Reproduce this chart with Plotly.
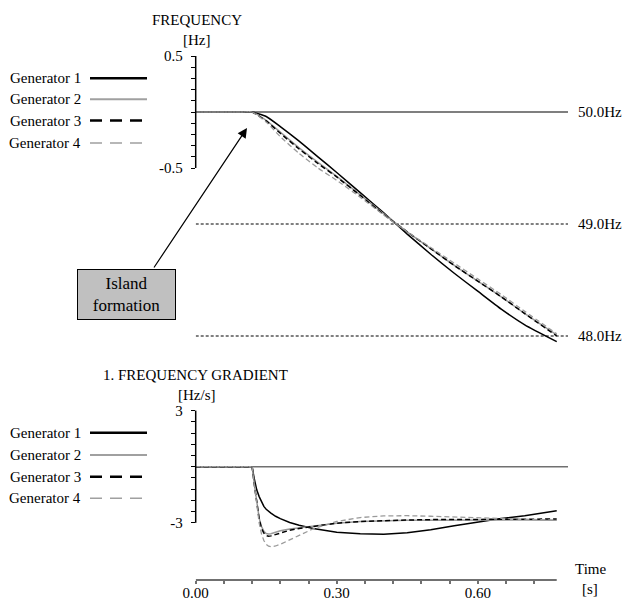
import plotly.graph_objects as go

# ---------------- data ----------------
generators = ["Generator 1", "Generator 2", "Generator 3", "Generator 4"]

# frequency deviation [Hz] (relative to 50 Hz)
t_freq = [0.0, 0.10, 0.12, 0.15, 0.18, 0.22, 0.26, 0.30, 0.35, 0.40, 0.45, 0.50, 0.55, 0.60, 0.65, 0.70, 0.768]
freq_gen1 = [0.0, 0.0, 0.0, -0.04, -0.13, -0.26, -0.40, -0.54, -0.72, -0.90, -1.09, -1.27, -1.44, -1.60, -1.76, -1.90, -2.05]
freq_gen2 = [0.0, 0.0, 0.0, -0.075, -0.18, -0.32, -0.45, -0.575, -0.74, -0.91, -1.07, -1.22, -1.37, -1.51, -1.65, -1.80, -1.99]
freq_gen3 = [0.0, 0.0, 0.0, -0.08, -0.19, -0.33, -0.46, -0.58, -0.745, -0.915, -1.07, -1.22, -1.37, -1.51, -1.65, -1.80, -2.00]
freq_gen4 = [0.0, 0.0, 0.0, -0.09, -0.22, -0.37, -0.50, -0.61, -0.76, -0.92, -1.07, -1.21, -1.35, -1.49, -1.63, -1.78, -1.98]

# frequency gradient [Hz/s]
t_grad = [0.0, 0.12, 0.125, 0.13, 0.135, 0.14, 0.145, 0.15, 0.155, 0.16, 0.17, 0.18, 0.20, 0.22, 0.25,
          0.30, 0.35, 0.40, 0.45, 0.50, 0.55, 0.60, 0.65, 0.70, 0.768]
grad_gen1 = [0.0, 0.0, -0.7, -1.25, -1.6, -1.9, -2.12, -2.28, -2.40, -2.48, -2.65, -2.78, -2.98, -3.13, -3.30,
             -3.50, -3.59, -3.61, -3.53, -3.37, -3.16, -2.96, -2.77, -2.62, -2.36]
grad_gen2 = [0.0, 0.0, -1.0, -2.0, -2.75, -3.2, -3.45, -3.57, -3.60, -3.58, -3.50, -3.43, -3.33, -3.26, -3.17,
             -3.02, -2.93, -2.89, -2.87, -2.86, -2.85, -2.84, -2.84, -2.85, -2.86]
grad_gen3 = [0.0, 0.0, -1.0, -2.0, -2.8, -3.3, -3.55, -3.68, -3.72, -3.70, -3.62, -3.53, -3.40, -3.30, -3.18,
             -3.02, -2.93, -2.88, -2.85, -2.83, -2.82, -2.81, -2.81, -2.80, -2.80]
grad_gen4 = [0.0, 0.0, -1.0, -2.1, -3.0, -3.6, -3.95, -4.15, -4.25, -4.28, -4.24, -4.15, -3.92, -3.66, -3.32,
             -2.93, -2.72, -2.63, -2.62, -2.65, -2.69, -2.74, -2.79, -2.82, -2.86]

ref_levels = [0.0, -1.0, -2.0]
ref_labels = ["50.0Hz", "49.0Hz", "48.0Hz"]

x_ticks = [0.0, 0.06, 0.12, 0.18, 0.24, 0.30, 0.36, 0.42, 0.48, 0.54, 0.60, 0.66, 0.72]
x_ticktext = ["0.00", "", "", "", "", "0.30", "", "", "", "", "0.60", "", ""]
y1_ticks = [-0.5, -0.4, -0.3, -0.2, -0.1, 0.0, 0.1, 0.2, 0.3, 0.4, 0.5]
y1_ticktext = ["-0.5", "", "", "", "", "", "", "", "", "", "0.5"]
y2_ticks = [-3.0, -2.4, -1.8, -1.2, -0.6, 0.0, 0.6, 1.2, 1.8, 2.4, 3.0]
y2_ticktext = ["-3", "", "", "", "", "", "", "", "", "", "3"]

# ---------------- styling ----------------
W, H = 624, 601
FONT = "Liberation Serif"
styles = [
    dict(color="black", width=1.5, dash="solid"),
    dict(color="#9a9a9a", width=1.5, dash="solid"),
    dict(color="black", width=1.5, dash="5px,3px"),
    dict(color="#9a9a9a", width=1.3, dash="5px,3px"),
]
legend_styles = [
    dict(color="black", width=2.5, dash="solid"),
    dict(color="#a0a0a0", width=2, dash="solid"),
    dict(color="black", width=2.5, dash="12px,8px"),
    dict(color="#a0a0a0", width=1.6, dash="12px,8px"),
]
X_END = 0.792   # extent of the horizontal reference lines
X_AXIS_END = 0.768


def px(x):
    return x / W


def py(y):
    return 1 - y / H


fig = go.Figure()

# reference lines (top)
for lvl in ref_levels:
    fig.add_trace(go.Scatter(
        x=[0, X_END], y=[lvl, lvl], mode="lines", xaxis="x", yaxis="y",
        line=dict(color="black", width=1.2 if lvl == 0 else 1,
                  dash="solid" if lvl == 0 else "3px,2px"),
        showlegend=False, hoverinfo="skip"))
# zero line (bottom)
fig.add_trace(go.Scatter(
    x=[0, X_END], y=[0, 0], mode="lines", xaxis="x", yaxis="y2",
    line=dict(color="#707070", width=1.6), showlegend=False, hoverinfo="skip"))

freq_series = [freq_gen1, freq_gen2, freq_gen3, freq_gen4]
grad_series = [grad_gen1, grad_gen2, grad_gen3, grad_gen4]
for name, fs, st in zip(generators, freq_series, styles):
    fig.add_trace(go.Scatter(x=t_freq, y=fs, mode="lines", name=name, xaxis="x", yaxis="y",
                             line=dict(**st, shape="spline", smoothing=0.5), showlegend=False))
for name, gs, st in zip(generators, grad_series, styles):
    fig.add_trace(go.Scatter(x=t_grad, y=gs, mode="lines", name=name, xaxis="x", yaxis="y2",
                             line=dict(**st, shape="linear"), showlegend=False))

x0_px, x1_px = 195.7, 568.0
top_y0_px, top_y1_px, top_zero, top_scale = 345.0, 50.0, 112.0, 112.0
bot_y0_px, bot_y1_px, bot_zero, bot_scale = 562.0, 400.0, 466.7, 18.7

axis_font = dict(family=FONT, size=15, color="black")
fig.update_layout(
    template="none",
    width=W, height=H, autosize=False,
    margin=dict(l=0, r=0, t=0, b=0, pad=0, autoexpand=False),
    paper_bgcolor="white", plot_bgcolor="white",
    font=axis_font,
    showlegend=False,
    xaxis=dict(domain=[px(x0_px), px(x1_px)], range=[0, X_END], anchor="free",
               position=py(580), showline=False, showgrid=False, zeroline=False,
               automargin=False,
               tickmode="array", tickvals=x_ticks, ticktext=x_ticktext,
               ticks="outside", ticklen=3, tickcolor="#707070", tickwidth=1.5,
               ticklabelstandoff=-4, tickfont=axis_font),
    yaxis=dict(domain=[py(top_y0_px), py(top_y1_px)],
               range=[-(top_y0_px - top_zero) / top_scale, (top_zero - top_y1_px) / top_scale],
               anchor="x", showline=False, showgrid=False, zeroline=False, automargin=False,
               tickmode="array", tickvals=y1_ticks, ticktext=y1_ticktext,
               ticks="outside", ticklen=4, tickcolor="black", ticklabelstandoff=5,
               tickfont=axis_font),
    yaxis2=dict(domain=[py(bot_y0_px), py(bot_y1_px)],
                range=[-(bot_y0_px - bot_zero) / bot_scale, (bot_zero - bot_y1_px) / bot_scale],
                anchor="x", showline=False, showgrid=False, zeroline=False, automargin=False,
                tickmode="array", tickvals=y2_ticks, ticktext=y2_ticktext,
                ticks="outside", ticklen=4, tickcolor="black", ticklabelstandoff=5,
                tickfont=axis_font),
)

shapes = []
# y axis spines (partial)
shapes.append(dict(type="line", xref="paper", yref="y", x0=px(x0_px), x1=px(x0_px),
                   y0=y1_ticks[0], y1=y1_ticks[-1], line=dict(color="black", width=1.5)))
shapes.append(dict(type="line", xref="paper", yref="y2", x0=px(x0_px), x1=px(x0_px),
                   y0=y2_ticks[0], y1=y2_ticks[-1], line=dict(color="black", width=1.5)))
# x axis line
shapes.append(dict(type="line", xref="x", yref="paper", x0=0, x1=X_AXIS_END,
                   y0=py(580), y1=py(580), line=dict(color="#707070", width=2)))

annotations = []
# legends (manual, text left of sample)
for rows in ([78.3, 99.3, 120.5, 143], [432.7, 455, 476.7, 498.3]):
    for name, yrow, ls in zip(generators, rows, legend_styles):
        annotations.append(dict(xref="paper", yref="paper", x=px(83), y=py(yrow),
                                text=name, showarrow=False, xanchor="right", yanchor="middle",
                                font=dict(family=FONT, size=15, color="black")))
        shapes.append(dict(type="line", xref="paper", yref="paper", x0=px(90), x1=px(147),
                           y0=py(yrow), y1=py(yrow), line=ls))

# titles
for text, xc, yc in [("FREQUENCY", 197, 20), ("[Hz]", 196, 40),
                     ("1. FREQUENCY GRADIENT", 195, 375), ("[Hz/s]", 197, 395),
                     ("Time", 590, 569), ("[s]", 590, 589)]:
    annotations.append(dict(xref="paper", yref="paper", x=px(xc), y=py(yc), text=text,
                            showarrow=False, xanchor="center", yanchor="middle",
                            font=dict(family=FONT, size=15, color="black")))

# right labels of reference lines
for lvl, lab in zip(ref_levels, ref_labels):
    annotations.append(dict(xref="paper", yref="y", x=px(576), y=lvl, text=lab,
                            showarrow=False, xanchor="left", yanchor="middle",
                            font=dict(family=FONT, size=15, color="black")))

# island formation box and arrow
annotations.append(dict(xref="paper", yref="paper", x=px(126), y=py(294.3),
                        text="Island<br>formation", showarrow=False,
                        xanchor="center", yanchor="middle",
                        bgcolor="#c0c0c0", bordercolor="black", borderwidth=1, borderpad=0,
                        width=97, height=49,
                        font=dict(family=FONT, size=17, color="black")))
annotations.append(dict(xref="paper", yref="paper", x=px(247), y=py(128), text="",
                        showarrow=True, axref="pixel", ayref="pixel", ax=-94, ay=141,
                        arrowhead=2, arrowsize=1.6, arrowwidth=1.2, arrowcolor="black"))

fig.update_layout(shapes=shapes, annotations=annotations)
fig.write_html("out.html",
               config={"displayModeBar": False},
               post_script="document.body.style.margin='0';document.body.style.overflow='hidden';")
